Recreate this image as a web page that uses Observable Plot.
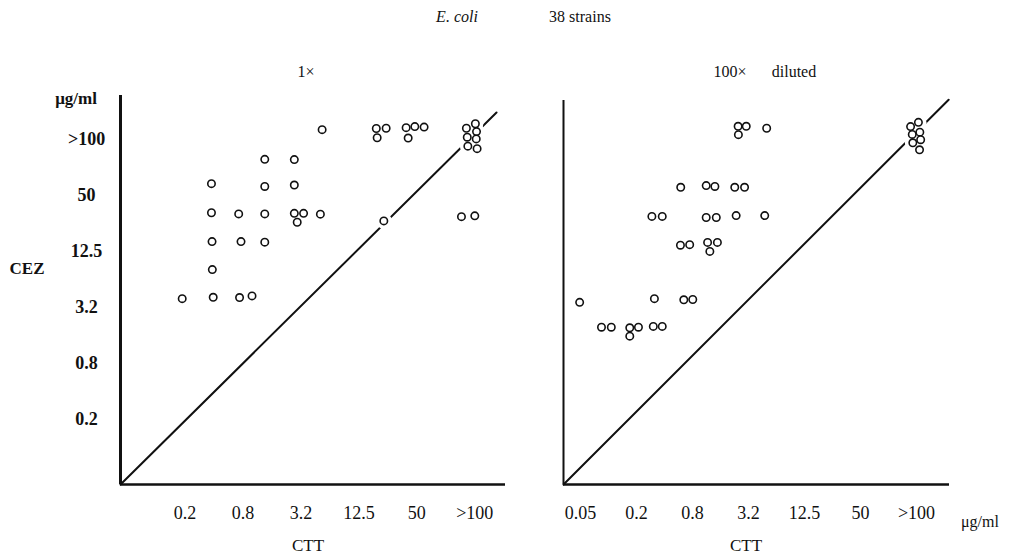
<!DOCTYPE html>
<html><head><meta charset="utf-8">
<script src="https://cdn.jsdelivr.net/npm/d3@7"></script>
<script src="https://cdn.jsdelivr.net/npm/@observablehq/plot@0.6"></script>
<style>
body{margin:0;background:#fff;}
#wrap{position:relative;width:1016px;height:559px;overflow:hidden;font-family:"Liberation Serif","Times New Roman",serif;color:#111;}
.t{position:absolute;white-space:nowrap;transform:translate(-50%,-50%);line-height:1.1;}
#left,#right{position:absolute;top:0;}
#left{left:0px;} #right{left:508px;}
</style></head><body>
<div id="wrap">
  <div id="left"></div><div id="right"></div>
  <div class="t" style="left:457px;top:17px;font-size:16px;font-style:italic">E. coli</div>
  <div class="t" style="left:580px;top:17px;font-size:16px">38 strains</div>
  <div class="t" style="left:306px;top:72px;font-size:16px">1×</div>
  <div class="t" style="left:730px;top:72px;font-size:16px">100×</div>
  <div class="t" style="left:794px;top:72px;font-size:16px">diluted</div>
  <div class="t" style="left:76px;top:99px;font-size:17px;font-weight:bold">μg/ml</div>
  <div class="t" style="left:27px;top:269px;font-size:17px;font-weight:bold">CEZ</div>
  <div class="t" style="left:308px;top:546px;font-size:17px">CTT</div>
  <div class="t" style="left:746px;top:546px;font-size:17px">CTT</div>
  <div class="t" style="left:980px;top:522px;font-size:16px">μg/ml</div>
</div>
<script>
// MIC dilution levels: index 0 = 0.05 µg/ml, each step doubles
const levelLabels = ["0.05","0.1","0.2","0.4","0.8","1.6","3.2","6.25","12.5","25","50","100",">100"];
const yTickLevels = [2, 4, 6, 8, 10, 12];
const xTickLevelsLeft = [2, 4, 6, 8, 10, 12];
const xTickLevelsRight = [0, 2, 4, 6, 8, 10, 12];

// Panel "1×": CTT (x) and CEZ (y) MIC levels per strain
const ctt1x = [6.73,8.60,8.94,8.63,9.63,9.93,10.25,9.70,11.71,12.02,12.06,11.74,12.05,11.76,12.08,4.75,5.77,2.91,4.75,5.77,2.91,3.85,4.75,5.77,6.09,5.87,6.67,8.86,11.54,12.00,2.93,3.93,4.75,2.94,1.90,2.97,3.88,4.31];
const cez1x = [12.36,12.40,12.41,12.07,12.43,12.47,12.45,12.06,12.41,12.57,12.29,12.09,12.03,11.77,11.68,11.30,11.29,10.43,10.33,10.38,9.39,9.35,9.35,9.37,9.37,9.05,9.34,9.10,9.25,9.28,8.36,8.36,8.34,7.36,6.32,6.37,6.36,6.42];

// Panel "100× diluted"
const ctt100x = [5.63,5.92,5.64,6.65,3.58,4.49,4.80,5.51,5.86,2.55,2.92,4.49,4.85,5.56,6.58,3.57,3.90,4.54,4.89,4.62,-0.03,2.64,3.69,4.01,0.75,1.10,1.76,2.07,1.76,2.60,2.92,11.79,12.07,11.85,12.12,11.87,12.15,12.11];
const cez100x = [12.48,12.48,12.18,12.41,10.30,10.36,10.33,10.30,10.30,9.26,9.26,9.22,9.22,9.29,9.29,8.23,8.25,8.33,8.33,8.01,6.19,6.32,6.28,6.29,5.30,5.30,5.28,5.30,4.98,5.33,5.33,12.47,12.62,12.19,12.27,11.89,12.00,11.64];

const yDomain = [-0.32, 13.58];

function panel(o) {
  const pts = o.ctt.map((x, i) => ({x, y: o.cez[i]}));
  const x0 = o.xDomain[0], y0 = yDomain[0];
  const marks = [
    Plot.line(o.diag, {x: "x", y: "y", stroke: "#111", strokeWidth: 2}),
    Plot.dot(pts, {x: "x", y: "y", r: 8, fill: "white", stroke: null}),
    Plot.dot(pts, {x: "x", y: "y", r: 3.7, fill: "white", stroke: "#111", strokeWidth: 1.6}),
    Plot.ruleX([x0], {y1: y0, y2: o.axisTop, stroke: "#111", strokeWidth: o.vWidth}),
    Plot.ruleY([y0], {x1: x0, x2: o.xDomain[1], stroke: "#111", strokeWidth: 2.5}),
    Plot.axisX(o.xTicks, {anchor: "bottom", label: null, tickSize: 0, tickPadding: 22, tickFormat: d => levelLabels[d], fontSize: 18, fill: "#111"})
  ];
  if (o.yAxis) marks.push(Plot.axisY(yTickLevels, {anchor: "left", label: null, tickSize: 0, tickPadding: 34, textAnchor: "middle", tickFormat: d => levelLabels[d], fontSize: 18, fontWeight: "bold", fill: "#111"}));
  return Plot.plot({
    width: 508, height: 559,
    marginTop: 95, marginBottom: 75, marginLeft: o.marginLeft, marginRight: o.marginRight,
    x: {domain: o.xDomain, axis: null},
    y: {domain: yDomain, axis: null},
    style: {fontFamily: "'Liberation Serif', 'Times New Roman', serif", fontSize: "18px", background: "transparent", overflow: "visible", color: "#111"},
    marks
  });
}

document.getElementById("left").appendChild(panel({
  ctt: ctt1x, cez: cez1x, xDomain: [-0.23, 13.06], marginLeft: 120, marginRight: 3,
  xTicks: xTickLevelsLeft, axisTop: 13.58, vWidth: 3, yAxis: true,
  diag: [{x: -0.23, y: -0.32}, {x: 12.75, y: 12.97}]
}));
document.getElementById("right").appendChild(panel({
  ctt: ctt100x, cez: cez100x, xDomain: [-0.607, 13.18], marginLeft: 55, marginRight: 67,
  xTicks: xTickLevelsRight, axisTop: 13.40, vWidth: 2, yAxis: false,
  diag: [{x: -0.607, y: -0.32}, {x: 13.15, y: 13.43}]
}));
</script>
</body></html>
